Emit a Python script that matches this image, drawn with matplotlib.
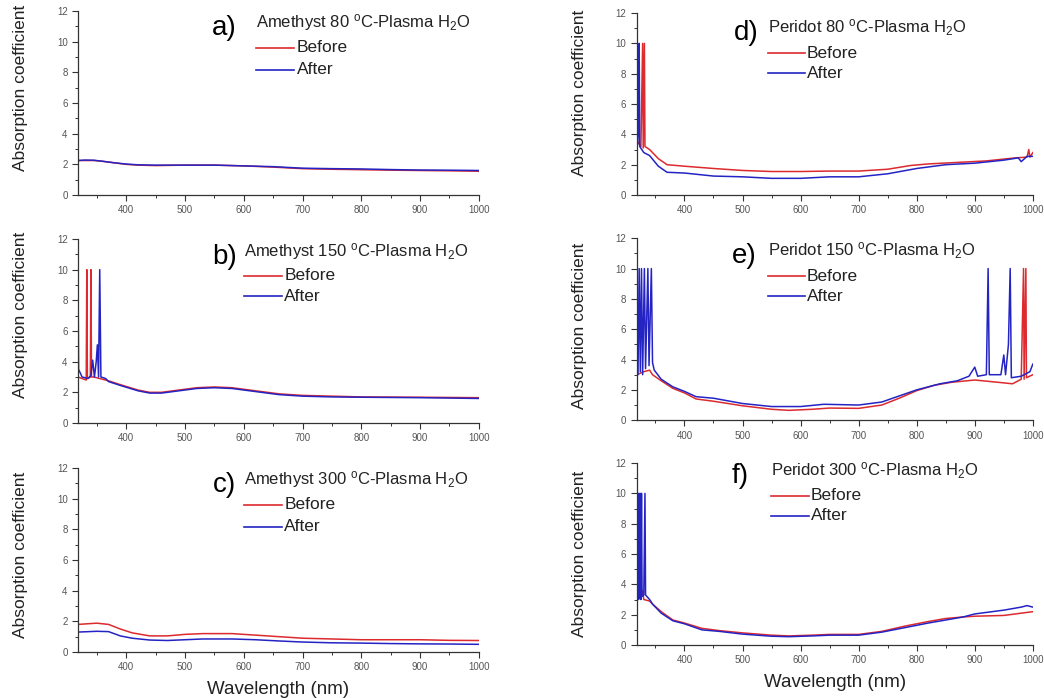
import matplotlib
matplotlib.use("Agg")
import matplotlib.pyplot as plt

plt.rcParams['font.family'] = ['Liberation Sans', 'DejaVu Sans']
plt.rcParams['mathtext.fontset'] = 'custom'
plt.rcParams['mathtext.rm'] = 'Liberation Sans'
plt.rcParams['mathtext.it'] = 'Liberation Sans'

# colores
rojo = '#dc2a2e'
azul = '#2424c4'

# a) Amethyst 80
a_wl = [318, 330, 345, 360, 380, 400, 420, 450, 500, 550, 600, 650, 700, 750, 800, 850, 900, 950, 1000]
a_before = [2.25, 2.25, 2.25, 2.2, 2.1, 2.0, 1.95, 1.92, 1.95, 1.95, 1.9, 1.82, 1.72, 1.68, 1.65, 1.62, 1.6, 1.58, 1.55]
a_after = [2.25, 2.28, 2.27, 2.2, 2.1, 2.02, 1.97, 1.95, 1.95, 1.95, 1.9, 1.85, 1.75, 1.72, 1.7, 1.66, 1.63, 1.62, 1.6]

# b) Amethyst 150
b_wl_before = [318, 325, 332, 333, 334, 339, 340, 341, 345, 355, 370, 390, 420, 440, 460, 490, 520, 550, 580, 620, 660, 700, 750, 800, 900, 1000]
b_before = [3.0, 2.9, 2.8, 10, 2.9, 3.0, 10, 3.0, 3.0, 2.9, 2.75, 2.5, 2.15, 2.0, 2.0, 2.15, 2.3, 2.35, 2.3, 2.1, 1.9, 1.8, 1.75, 1.7, 1.68, 1.65]
b_wl_after = [318, 319, 325, 335, 340, 343, 346, 349, 351, 353, 355, 357, 365, 370, 390, 420, 440, 460, 490, 520, 550, 580, 620, 660, 700, 750, 800, 900, 1000]
b_after = [10, 3.5, 3.0, 2.9, 3.1, 4.1, 3.0, 4.0, 5.1, 3.0, 10, 3.0, 2.9, 2.7, 2.45, 2.1, 1.95, 1.95, 2.1, 2.25, 2.3, 2.25, 2.05, 1.85, 1.75, 1.7, 1.68, 1.65, 1.6]

# c) Amethyst 300
c_wl = [318, 350, 370, 390, 410, 440, 470, 500, 530, 580, 620, 660, 700, 750, 800, 850, 900, 950, 1000]
c_before = [1.8, 1.88, 1.8, 1.5, 1.25, 1.05, 1.05, 1.15, 1.2, 1.2, 1.1, 1.0, 0.9, 0.85, 0.8, 0.8, 0.8, 0.76, 0.75]
c_after = [1.3, 1.35, 1.33, 1.05, 0.9, 0.78, 0.75, 0.8, 0.85, 0.85, 0.8, 0.72, 0.65, 0.6, 0.58, 0.55, 0.53, 0.52, 0.5]

# d) Peridot 80
d_wl_before = [318, 325, 328, 329, 331, 332, 340, 355, 370, 400, 450, 500, 550, 600, 650, 700, 750, 790, 820, 870, 920, 970, 990, 993, 995, 1000]
d_before = [3.6, 3.2, 10, 3.1, 10, 3.2, 3.0, 2.4, 2.0, 1.9, 1.75, 1.62, 1.55, 1.55, 1.58, 1.58, 1.7, 1.95, 2.05, 2.15, 2.25, 2.45, 2.5, 3.0, 2.5, 2.8]
d_wl_after = [318, 319, 321, 322, 323, 330, 340, 355, 370, 400, 450, 500, 550, 600, 650, 700, 750, 800, 850, 900, 950, 975, 980, 990, 1000]
d_after = [10, 3.3, 4.5, 10, 3.2, 2.8, 2.6, 1.9, 1.5, 1.45, 1.25, 1.2, 1.1, 1.1, 1.2, 1.2, 1.4, 1.75, 2.0, 2.1, 2.3, 2.45, 2.2, 2.55, 2.55]

# e) Peridot 150
e_wl_before = [318, 330, 340, 345, 360, 380, 400, 420, 450, 500, 550, 580, 620, 650, 700, 740, 770, 800, 830, 860, 900, 940, 965, 980, 984, 985, 988, 989, 1000]
e_before = [3.0, 3.2, 3.3, 3.0, 2.6, 2.1, 1.8, 1.4, 1.25, 0.95, 0.72, 0.65, 0.72, 0.8, 0.78, 1.0, 1.45, 1.95, 2.3, 2.5, 2.65, 2.5, 2.4, 2.7, 10, 2.7, 10, 2.8, 3.0]
e_wl_after = [318, 320, 322, 324, 326, 328, 331, 333, 337, 339, 343, 345, 348, 360, 380, 400, 420, 450, 500, 550, 600, 640, 700, 740, 770, 800, 840, 870, 890, 900, 905, 920, 923, 925, 945, 950, 953, 958, 961, 963, 980, 995, 1000]
e_after = [10, 3.0, 10, 3.2, 10, 3.0, 10, 3.4, 10, 3.6, 10, 3.8, 3.3, 2.7, 2.2, 1.9, 1.55, 1.45, 1.1, 0.9, 0.9, 1.05, 1.0, 1.2, 1.6, 2.0, 2.4, 2.6, 2.9, 3.5, 2.9, 3.0, 10, 3.0, 3.0, 4.3, 3.0, 5.0, 10, 2.8, 2.9, 3.2, 3.7]

# f) Peridot 300
f_wl_before = [318, 325, 328, 330, 340, 345, 360, 380, 400, 430, 460, 500, 550, 580, 620, 650, 700, 740, 780, 820, 850, 880, 900, 950, 980, 1000]
f_before = [3.0, 3.2, 3.6, 3.0, 2.9, 2.7, 2.2, 1.65, 1.45, 1.1, 0.95, 0.8, 0.65, 0.6, 0.65, 0.7, 0.7, 0.9, 1.25, 1.55, 1.75, 1.85, 1.9, 1.95, 2.1, 2.2]
f_wl_after = [318, 319, 320, 321, 322, 323, 324, 325, 326, 327, 330, 332, 333, 340, 345, 360, 380, 400, 430, 460, 500, 550, 580, 620, 650, 700, 740, 780, 820, 850, 880, 900, 950, 980, 990, 1000]
f_after = [10, 3.0, 10, 3.0, 10, 3.1, 10, 3.0, 10, 3.2, 3.3, 10, 3.3, 3.0, 2.7, 2.1, 1.6, 1.4, 1.0, 0.9, 0.72, 0.58, 0.55, 0.6, 0.65, 0.65, 0.85, 1.15, 1.45, 1.65, 1.85, 2.05, 2.3, 2.5, 2.6, 2.5]

paneles = [
    # letra, titulo, posicion del eje, datos, textos (letra x, titulo x, y titulo, y before, y after, y ylabel)
    ('a)', 'Amethyst 80', [0.0747, 0.7206, 0.384, 0.2636], (a_wl, a_before, a_wl, a_after), (0.335, 0.445, 0.94, 0.80, 0.68, 0.58), False),
    ('b)', 'Amethyst 150', [0.0747, 0.394, 0.384, 0.2636], (b_wl_before, b_before, b_wl_after, b_after), (0.336, 0.415, 0.93, 0.80, 0.69, 0.59), False),
    ('c)', 'Amethyst 300', [0.0747, 0.0659, 0.384, 0.2636], (c_wl, c_before, c_wl, c_after), (0.336, 0.415, 0.94, 0.80, 0.68, 0.53), True),
    ('d)', 'Peridot 80', [0.610, 0.7206, 0.3793, 0.2607], (d_wl_before, d_before, d_wl_after, d_after), (0.245, 0.33, 0.92, 0.78, 0.67, 0.56), False),
    ('e)', 'Peridot 150', [0.610, 0.398, 0.3793, 0.2607], (e_wl_before, e_before, e_wl_after, e_after), (0.24, 0.33, 0.93, 0.79, 0.68, 0.52), False),
    ('f)', 'Peridot 300', [0.610, 0.0759, 0.3793, 0.2607], (f_wl_before, f_before, f_wl_after, f_after), (0.24, 0.34, 0.96, 0.82, 0.71, 0.5), True),
]

fig = plt.figure(figsize=(10.44, 6.98), dpi=100)

for letra, titulo, pos, datos, txt, con_xlabel in paneles:
    ax = fig.add_axes(pos)
    wl_b, val_b, wl_a, val_a = datos
    ax.plot(wl_b, val_b, color=rojo, lw=1.1)
    ax.plot(wl_a, val_a, color=azul, lw=1.1)
    ax.set_xlim(318, 1000)
    ax.set_ylim(0, 12)
    ax.set_xticks([400, 500, 600, 700, 800, 900, 1000])
    ax.set_xticks([350, 450, 550, 650, 750, 850, 950], minor=True)
    ax.set_yticks([0, 2, 4, 6, 8, 10, 12])
    ax.set_yticks([1, 3, 5, 7, 9, 11], minor=True)
    ax.tick_params(which='major', direction='out', length=4, width=0.8, labelsize=7, labelcolor='#555555', color='#333333')
    ax.tick_params(which='minor', direction='out', length=2.5, width=0.7, color='#333333')
    ax.spines['top'].set_visible(False)
    ax.spines['right'].set_visible(False)
    for s in ['left', 'bottom']:
        ax.spines[s].set_linewidth(0.9)
        ax.spines[s].set_color('#333333')
    lx, tx, ty, yb, ya, yl = txt
    ax.set_ylabel('Absorption coefficient', fontsize=12.5, color='#222222')
    ax.yaxis.set_label_coords(-0.125, yl)
    if con_xlabel:
        ax.set_xlabel('Wavelength (nm)', fontsize=13.5, color='#222222', labelpad=6)

    ax.text(lx, ty - 0.03, letra, transform=ax.transAxes, fontsize=20, va='center', ha='left')
    ax.text(tx, ty, titulo + r' $^{\rm o}$C-Plasma H$_{\rm 2}$O', transform=ax.transAxes,
            fontsize=12, va='center', ha='left', color='#222222')
    # leyenda manual
    ax.plot([tx, tx + 0.095], [yb, yb], transform=ax.transAxes, color=rojo, lw=1.2, clip_on=False)
    ax.plot([tx, tx + 0.095], [ya, ya], transform=ax.transAxes, color=azul, lw=1.2, clip_on=False)
    ax.text(tx + 0.1, yb, 'Before', transform=ax.transAxes, fontsize=12.5, va='center', ha='left', color='#222222')
    ax.text(tx + 0.1, ya, 'After', transform=ax.transAxes, fontsize=12.5, va='center', ha='left', color='#222222')

fig.savefig('out.png', dpi=100)
